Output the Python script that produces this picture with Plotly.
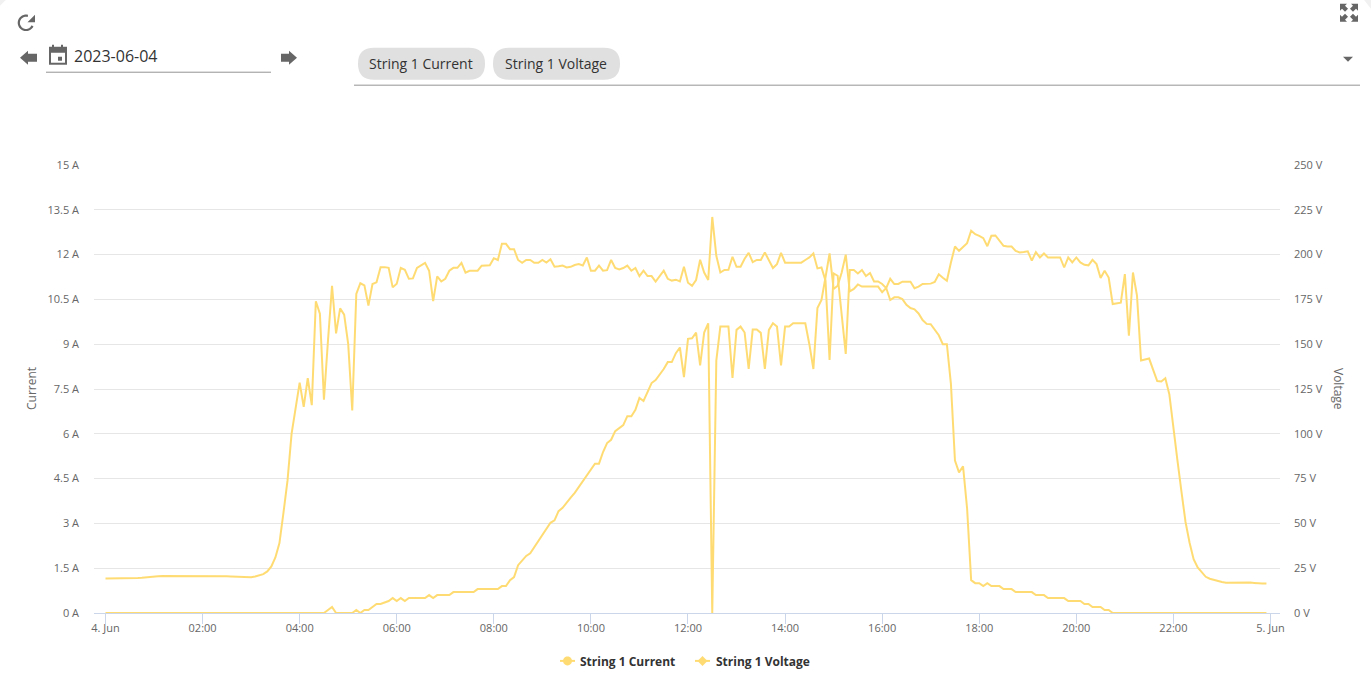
import math
import pandas as pd
import plotly.graph_objects as go

W, H = 1371, 680
PL, PR, PT, PB = 94, 1280, 164.5, 613.5
LINE = "#FFDC73"
ICON = "#666666"
FONT = "Open Sans"

current_a = [
    0,0,0,0,0,0,0,0,0,0,0,0,
    0,0,0,0,0,0,0,0,0,0,0,0,
    0,0,0,0,0,0,0,0,0,0,0,0,
    0,0,0,0,0,0,0,0,0,0,0,0,
    0,0,0,0,0,0,0,0.1,0.2,0,0,0,
    0,0,0.1,0,0.1,0.1,0.2,0.3,0.3,0.35,0.4,0.5,
    0.4,0.5,0.4,0.5,0.5,0.5,0.5,0.5,0.6,0.5,0.6,0.6,
    0.6,0.6,0.7,0.7,0.7,0.7,0.7,0.7,0.8,0.8,0.8,0.8,
    0.8,0.8,0.9,0.9,1.1,1.2,1.6,1.74,1.91,2.0,2.2,2.4,
    2.62,2.82,3.02,3.1,3.41,3.52,3.71,3.86,4.02,4.22,4.42,4.62,
    4.82,5.0,5.0,5.39,5.69,5.8,6.09,6.19,6.29,6.59,6.59,6.8,
    7.2,7.1,7.4,7.7,7.8,7.98,8.17,8.4,8.4,8.7,8.89,7.9,
    9.18,9.2,9.39,8.29,9.39,9.7,0,8.45,9.59,9.59,9.59,7.87,
    9.48,9.59,9.39,8.17,9.49,9.49,9.38,8.17,9.48,9.7,9.59,8.29,
    9.59,9.59,9.7,9.7,9.7,9.7,9.0,8.17,10.21,10.48,11.24,12.04,
    10.85,10.96,11.4,12.0,10.77,10.85,11.0,10.93,10.93,10.93,10.93,10.93,
    10.74,10.88,10.48,10.57,10.57,10.51,10.32,10.21,10.17,10.03,9.81,9.68,
    9.67,9.5,9.3,9.0,9.0,7.67,5.1,4.71,4.91,3.5,1.1,1.0,
    1.0,0.9,1.0,0.9,0.9,0.9,0.8,0.8,0.8,0.7,0.7,0.7,
    0.7,0.7,0.6,0.6,0.6,0.5,0.5,0.5,0.5,0.5,0.4,0.4,
    0.4,0.4,0.3,0.3,0.2,0.2,0.2,0.1,0.1,0,0,0,
    0,0,0,0,0,0,0,0,0,0,0,0,
    0,0,0,0,0,0,0,0,0,0,0,0,
    0,0,0,0,0,0,0,0,0,0,0,0,
]

voltage_v = [
    19.2,19.2,19.2,19.2,19.3,19.3,19.5,19.5,19.6,19.7,20.0,20.2,
    20.4,20.5,20.6,20.6,20.7,20.7,20.7,20.7,20.7,20.7,20.8,20.8,
    20.9,20.9,20.8,20.8,20.7,20.7,20.5,20.4,20.3,20.2,20.1,20.1,
    20.0,20.4,20.9,21.7,23.2,26,31,39,56,74,100,114,
    128.6,115,131,116,174,167,119,152,182.6,156,170,166.5,
    150,113,178,184,182.8,171.5,183.6,184.5,193,193,192.6,181.7,
    183.8,192.6,191.5,186.5,186.7,192.6,193.8,195.4,191,174,187.8,185,
    186.5,191,192.6,192.6,195.4,189.9,191,191,191,193.8,194,194,
    198,197,206,206,203,203,197,195.4,197,197,195.4,195.4,
    197,195.6,197.4,193.2,193.5,193.9,192.8,193.2,194.2,194.7,193.9,198.4,
    191,191,193.9,191,191.3,197,192.5,191.7,192.5,193.9,191,192.5,
    188,191,188,188,185,188,191,186.5,185.5,186,185,193.2,
    184.3,182.6,185.8,197.1,190,185.8,221,199.3,190,191.4,191.5,198.8,
    193.2,193.2,197.7,201,195.8,197,197,201.2,197,192.5,194.7,201,
    195.5,195.5,195.5,195.5,195.5,197,198.4,200.6,192.3,192.8,185.4,141.2,
    189.5,188.2,166.9,144.6,191.4,191.4,189.5,191.4,188,189.7,185,185,
    183.6,181.3,186.5,183.6,183.6,184.9,184.9,184.9,181.2,182.1,183.6,183.8,
    183.8,184.7,189,187.1,185.4,195.6,204.5,202.1,204.4,206.4,213.3,211.4,
    210.5,209.2,204.7,210.5,210.7,208.1,204.9,204.5,204.5,202.1,201.2,201.4,
    201.8,196.6,201.4,198.4,200.6,198.4,198.4,198.4,198.4,192.8,198.4,195.6,
    198.4,195.6,194.3,194,197.1,194.7,186.9,191,187.2,172.4,173,173.2,
    189.1,154.8,190,177.1,140.9,141.4,142,135.7,129.4,129.2,131,122,
    105,85.2,67.6,50.8,39.2,30,25.4,22.5,20.2,19.1,18.4,17.6,
    17.3,16.9,16.9,17.1,17.1,17.2,17.3,17,16.8,16.5,16.5,16.5,
]

times = pd.date_range("2023-06-04 00:00", periods=len(voltage_v), freq="5min")

x_tick_vals = pd.date_range("2023-06-04 00:00", "2023-06-05 00:00", freq="2h")
x_tick_text = ["4. Jun", "02:00", "04:00", "06:00", "08:00", "10:00", "12:00",
               "14:00", "16:00", "18:00", "20:00", "22:00", "5. Jun"]
a_tick_vals = [0, 1.5, 3, 4.5, 6, 7.5, 9, 10.5, 12, 13.5, 15]
a_tick_text = ["0 A", "1.5 A", "3 A", "4.5 A", "6 A", "7.5 A", "9 A", "10.5 A", "12 A", "13.5 A", "15 A"]
v_tick_vals = [0, 25, 50, 75, 100, 125, 150, 175, 200, 225, 250]
v_tick_text = ["0 V", "25 V", "50 V", "75 V", "100 V", "125 V", "150 V", "175 V", "200 V", "225 V", "250 V"]


def fx(x):
    return (x - PL) / (PR - PL)


def fy(y):
    return 1 - (y - 1 - PT) / (PB - PT)


def px(x, y):
    return f"{fx(x):.5f},{fy(y):.5f}"


def poly(points, fill=ICON, line=None, width=0, close=True):
    d = "M" + " L".join(px(*p) for p in points) + (" Z" if close else "")
    return dict(type="path", xref="paper", yref="paper", path=d,
                fillcolor=fill if close else "rgba(0,0,0,0)",
                line=dict(color=line or "rgba(0,0,0,0)", width=width))


def box(x0, y0, x1, y1, fill=ICON):
    return poly([(x0, y0), (x1, y0), (x1, y1), (x0, y1)], fill)


def hline(x0, x1, y, color="#949494"):
    return poly([(x0, y), (x1, y)], line=color, width=1, close=False)


def pill(x0, y0, x1, y1, r=16, fill="#E0E0E0"):
    d = (f"M{px(x0 + r, y0)} L{px(x1 - r, y0)} Q{px(x1, y0)} {px(x1, y0 + r)} "
         f"Q{px(x1, y1)} {px(x1 - r, y1)} L{px(x0 + r, y1)} "
         f"Q{px(x0, y1)} {px(x0, y0 + r)} Q{px(x0, y0)} {px(x0 + r, y0)} Z")
    return dict(type="path", xref="paper", yref="paper", path=d, fillcolor=fill,
                line=dict(color="rgba(0,0,0,0)", width=0))


def arc(cx, cy, r, a0, a1, n=24):
    return [(cx + r * math.cos(math.radians(a0 + (a1 - a0) * i / n)),
             cy + r * math.sin(math.radians(a0 + (a1 - a0) * i / n))) for i in range(n + 1)]


def label(x, y, text, size=14, color="#333333", anchor="left", angle=0, bold=False):
    return dict(xref="paper", yref="paper", x=fx(x), y=fy(y), text=text, showarrow=False,
                xanchor=anchor, yanchor="middle", textangle=angle,
                font=dict(family=FONT, size=size, color=color, weight=700 if bold else 400))


shapes = [
    # card corners
    poly([(1364, 0), (1371, 0), (1371, 9)], "#F1F1F1"),
    poly([(0, 0), (6, 0), (0, 6)], "#F1F1F1"),
    # refresh icon
    poly(arc(26, 23, 7.2, 25, 285), line=ICON, width=2.2, close=False),
    poly([(35, 15), (35, 22.5), (27.5, 22.5)], ICON),
    # previous / next arrows
    poly([(20, 58), (28, 51), (28, 54), (37, 54), (37, 62), (28, 62), (28, 65)], ICON),
    poly([(297, 58), (289, 51), (289, 54), (281, 54), (281, 62), (289, 62), (289, 65)], ICON),
    # calendar
    box(49, 47, 67, 65), box(51, 53, 65, 63, "#FFFFFF"), box(58, 57, 62, 61),
    box(52, 45, 54, 48), box(61, 45, 63, 48),
    hline(46, 271, 72.5),
    # chips and select
    pill(358, 48, 485, 80), pill(493, 48, 620, 80),
    hline(354, 1360, 85.5),
    poly([(1343, 57), (1353, 57), (1348, 62)], ICON),
    # full screen icon
    poly([(1340, 4), (1347, 4), (1345, 6), (1348, 9), (1345, 12), (1342, 9), (1340, 11)], ICON),
    poly([(1358, 4), (1351, 4), (1353, 6), (1350, 9), (1353, 12), (1356, 9), (1358, 11)], ICON),
    poly([(1340, 22), (1347, 22), (1345, 20), (1348, 17), (1345, 14), (1342, 17), (1340, 15)], ICON),
    poly([(1358, 22), (1351, 22), (1353, 20), (1350, 17), (1353, 14), (1356, 17), (1358, 15)], ICON),
    # legend symbols
    poly([(560, 662.5), (575, 662.5)], line=LINE, width=2, close=False),
    poly(arc(567.5, 662.5, 4.5, 0, 360), LINE),
    poly([(695, 662.5), (710, 662.5)], line=LINE, width=2, close=False),
    poly([(702.5, 657.5), (707.5, 662.5), (702.5, 667.5), (697.5, 662.5)], LINE),
]

annotations = [
    label(72, 56, "2023-06-04", size=16),
    label(421, 64, "String 1 Current", size=14, anchor="center"),
    label(556, 64, "String 1 Voltage", size=14, anchor="center"),
    label(31, 390, "Current", size=12, color="#666666", anchor="center", angle=-90),
    label(1339, 390, "Voltage", size=12, color="#666666", anchor="center", angle=90),
]

fig = go.Figure()
fig.add_trace(go.Scatter(x=times, y=current_a, name="String 1 Current", mode="lines", yaxis="y",
                         line=dict(color=LINE, width=2), showlegend=False, cliponaxis=False,
                         hovertemplate="%{y} A<extra>String 1 Current</extra>"))
fig.add_trace(go.Scatter(x=times, y=voltage_v, name="String 1 Voltage", mode="lines", yaxis="y2",
                         line=dict(color=LINE, width=2), showlegend=False, cliponaxis=False,
                         hovertemplate="%{y} V<extra>String 1 Voltage</extra>"))
for name in ["String 1 Current", "String 1 Voltage"]:
    fig.add_trace(go.Scatter(x=[None], y=[None], name=name, mode="markers",
                             marker=dict(color="rgba(0,0,0,0)", size=1), hoverinfo="skip"))

axis_font = dict(family=FONT, size=11, color="#666666")
fig.update_layout(
    width=W, height=H, autosize=False,
    margin=dict(l=PL, r=W - PR, t=PT, b=H - PB, pad=0, autoexpand=False),
    paper_bgcolor="#FFFFFF", plot_bgcolor="#FFFFFF",
    font=dict(family=FONT),
    hovermode="x",
    shapes=shapes, annotations=annotations,
    xaxis=dict(type="date", range=["2023-06-03 23:45:47", "2023-06-05 00:11:46"],
               tickmode="array", tickvals=x_tick_vals, ticktext=x_tick_text,
               showgrid=False, zeroline=False, showline=True, linecolor="#CCD6EB", linewidth=1,
               ticks="outside", ticklen=10, tickcolor="#CCD6EB", tickwidth=1, tickfont=axis_font,
               ticklabelstandoff=-5),
    yaxis=dict(range=[0, 15], tickmode="array", tickvals=a_tick_vals, ticktext=a_tick_text,
               showgrid=True, gridcolor="#E6E6E6", gridwidth=1, zeroline=False, showline=False,
               ticks="", ticklabelstandoff=14, tickfont=axis_font),
    yaxis2=dict(range=[0, 250], overlaying="y", side="right", tickmode="array",
                tickvals=v_tick_vals, ticktext=v_tick_text, showgrid=False, zeroline=False,
                showline=False, ticks="", ticklabelstandoff=13, tickfont=axis_font),
    legend=dict(orientation="h", xref="paper", yref="paper", x=fx(540), y=fy(662.5),
                xanchor="left", yanchor="middle",
                font=dict(family=FONT, size=12, color="#333333", weight=700),
                bgcolor="rgba(0,0,0,0)", itemclick=False, itemdoubleclick=False,
                entrywidth=91, entrywidthmode="pixels"),
)

fig.write_html("out.html", config=dict(displayModeBar=False),
               post_script="document.body.style.margin='0';document.body.style.overflow='hidden';")
